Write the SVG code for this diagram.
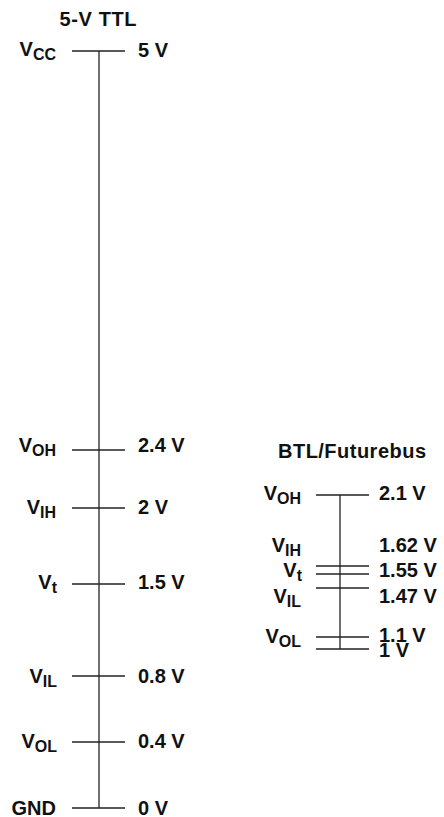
<svg xmlns="http://www.w3.org/2000/svg" width="444" height="817" viewBox="0 0 444 817">
<style>
text{font-family:"Liberation Sans",Arial,sans-serif;font-weight:bold;fill:#111;font-size:20px}
.t{font-size:20px}
.lbl{text-anchor:end}
.sub{font-size:16px}
line{stroke:#222;stroke-width:1.3}
</style>
<rect width="444" height="817" fill="#fff"/>
<g id="connectors">
<line x1="99" y1="51" x2="99" y2="808"/>
<line x1="340" y1="495" x2="340" y2="649"/>
</g>
<g id="title-ttl"><text class="t" x="98" y="26" text-anchor="middle" textLength="77" lengthAdjust="spacing">5-V TTL</text></g>
<g id="ttl-vcc"><line x1="72" y1="51" x2="125" y2="51"/><text class="lbl" x="56" y="56">V<tspan class="sub" dy="4">CC</tspan></text><text x="138" y="57">5 V</text></g>
<g id="ttl-voh"><line x1="72" y1="450" x2="125" y2="450"/><text class="lbl" x="56" y="452">V<tspan class="sub" dy="4">OH</tspan></text><text x="138" y="452">2.4 V</text></g>
<g id="ttl-vih"><line x1="72" y1="508" x2="125" y2="508"/><text class="lbl" x="56" y="514">V<tspan class="sub" dy="4">IH</tspan></text><text x="138" y="514">2 V</text></g>
<g id="ttl-vt"><line x1="72" y1="584" x2="125" y2="584"/><text class="lbl" x="57" y="589">V<tspan class="sub" dy="4">t</tspan></text><text x="138" y="589">1.5 V</text></g>
<g id="ttl-vil"><line x1="72" y1="676" x2="125" y2="676"/><text class="lbl" x="57" y="683">V<tspan class="sub" dy="4">IL</tspan></text><text x="138" y="683">0.8 V</text></g>
<g id="ttl-vol"><line x1="72" y1="742" x2="125" y2="742"/><text class="lbl" x="57" y="748">V<tspan class="sub" dy="4">OL</tspan></text><text x="138" y="748">0.4 V</text></g>
<g id="ttl-gnd"><line x1="72" y1="808" x2="125" y2="808"/><text class="lbl" x="56" y="815">GND</text><text x="138" y="815">0 V</text></g>
<g id="title-btl"><text class="t" x="352" y="458" text-anchor="middle" textLength="148" lengthAdjust="spacing">BTL/Futurebus</text></g>
<g id="btl-voh"><line x1="316" y1="495" x2="369" y2="495"/><text class="lbl" x="301" y="500">V<tspan class="sub" dy="4">OH</tspan></text><text x="379" y="500">2.1 V</text></g>
<g id="btl-vih"><line x1="316" y1="566" x2="369" y2="566"/><text class="lbl" x="301" y="552">V<tspan class="sub" dy="4">IH</tspan></text><text x="379" y="552">1.62 V</text></g>
<g id="btl-vt"><line x1="316" y1="574" x2="369" y2="574"/><text class="lbl" x="302" y="577">V<tspan class="sub" dy="4">t</tspan></text><text x="379" y="577">1.55 V</text></g>
<g id="btl-vil"><line x1="316" y1="588" x2="369" y2="588"/><text class="lbl" x="301" y="603">V<tspan class="sub" dy="4">IL</tspan></text><text x="379" y="603">1.47 V</text></g>
<g id="btl-vol"><line x1="316" y1="637" x2="369" y2="637"/><text class="lbl" x="301" y="643">V<tspan class="sub" dy="4">OL</tspan></text><text x="379" y="642">1.1 V</text></g>
<g id="btl-1v"><line x1="316" y1="649" x2="369" y2="649"/><text x="379" y="657">1 V</text></g>
</svg>
